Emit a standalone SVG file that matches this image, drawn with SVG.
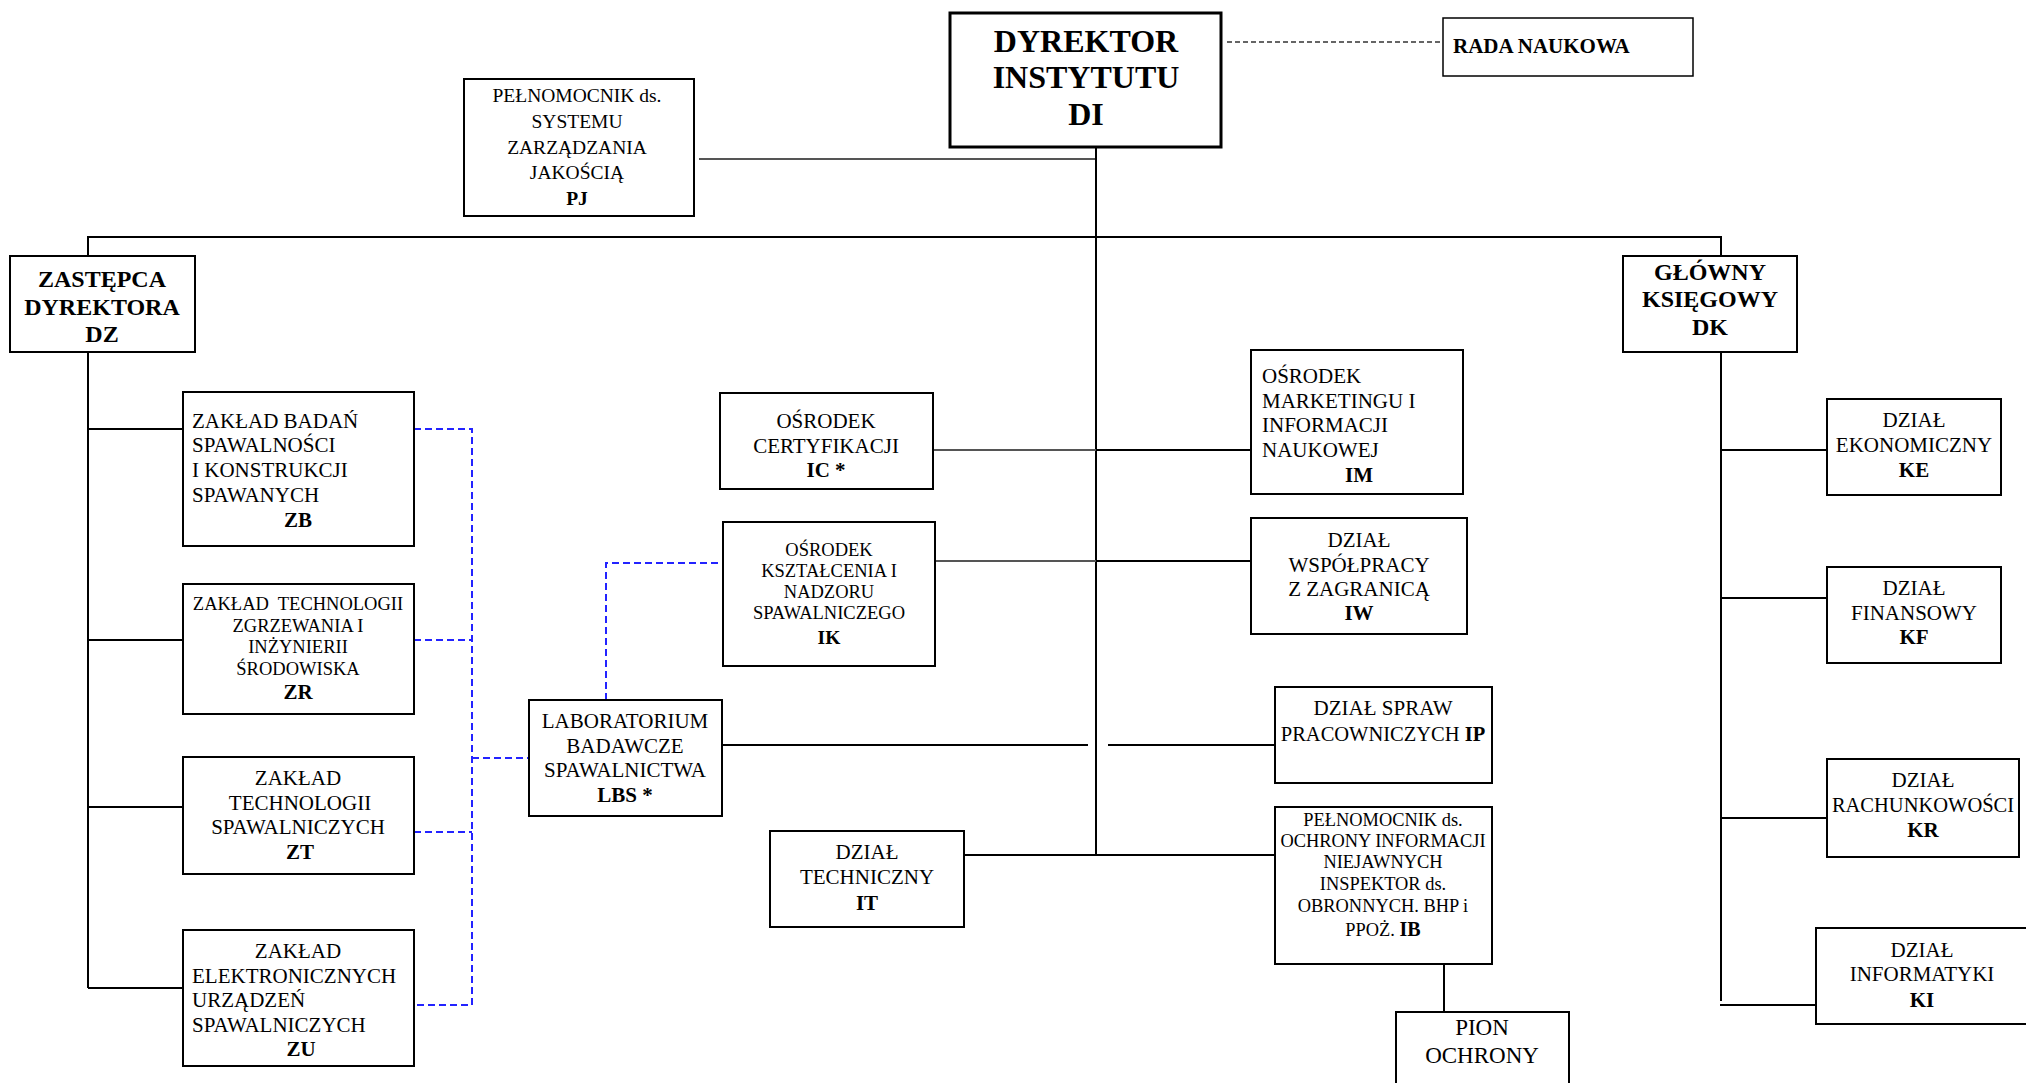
<svg xmlns="http://www.w3.org/2000/svg" width="2026" height="1083" viewBox="0 0 2026 1083">
<style>
text{font-family:"Liberation Serif","Times New Roman",serif;fill:#000;font-size:21px}
.c{text-anchor:middle}
.b{font-weight:bold}
.s18{font-size:18.5px}
.f18{font-size:18.4px}
.f19{font-size:19.5px}
.f20{font-size:20px}
.f205{font-size:20.5px}
.f23{font-size:23px}
.f24{font-size:24px}
.f32{font-size:32px}
.box{fill:#fff;stroke:#000;stroke-width:2}
.thick{stroke-width:3}
.thin{stroke-width:1.5}
.ln{stroke:#000;stroke-width:2;fill:none}
.gray{stroke:#555;stroke-width:2;fill:none}
.blue{stroke:#2323ff;stroke-width:2;fill:none;stroke-dasharray:7 4}
.dash{stroke:#333;stroke-width:1.4;fill:none;stroke-dasharray:5 3}
</style>
<rect width="2026" height="1083" fill="#fff"/>
<g id="connectors">
<line class="dash" x1="1227" y1="42" x2="1441" y2="42"/>
<line class="gray" x1="699" y1="159" x2="1096" y2="159"/>
<line class="ln" x1="1096" y1="147" x2="1096" y2="856"/>
<line class="ln" x1="87" y1="237" x2="1722" y2="237"/>
<line class="ln" x1="88" y1="237" x2="88" y2="256"/>
<line class="ln" x1="1721" y1="237" x2="1721" y2="256"/>
<line class="ln" x1="88" y1="352" x2="88" y2="988"/>
<line class="ln" x1="88" y1="429" x2="183" y2="429"/>
<line class="ln" x1="88" y1="640" x2="183" y2="640"/>
<line class="ln" x1="88" y1="807" x2="183" y2="807"/>
<line class="ln" x1="88" y1="988" x2="183" y2="988"/>
<line class="ln" x1="1721" y1="352" x2="1721" y2="1001"/>
<line class="ln" x1="1721" y1="450" x2="1827" y2="450"/>
<line class="ln" x1="1721" y1="598" x2="1827" y2="598"/>
<line class="ln" x1="1721" y1="818" x2="1827" y2="818"/>
<line class="ln" x1="1720" y1="1005" x2="1816" y2="1005"/>
<line class="gray" x1="933" y1="450" x2="1096" y2="450"/>
<line class="ln" x1="1096" y1="450" x2="1251" y2="450"/>
<line class="gray" x1="935" y1="561" x2="1096" y2="561"/>
<line class="ln" x1="1096" y1="561" x2="1251" y2="561"/>
<line class="ln" x1="722" y1="745" x2="1088" y2="745"/>
<line class="ln" x1="1108" y1="745" x2="1275" y2="745"/>
<line class="ln" x1="964" y1="855" x2="1275" y2="855"/>
<line class="ln" x1="1444" y1="964" x2="1444" y2="1012"/>
<polyline class="blue" points="414,429 472,429 472,1005 414,1005"/>
<line class="blue" x1="414" y1="640" x2="472" y2="640"/>
<line class="blue" x1="414" y1="832" x2="472" y2="832"/>
<line class="blue" x1="472" y1="758" x2="529" y2="758"/>
<polyline class="blue" points="606,700 606,563 723,563"/>
</g>
<g id="DI">
<rect class="box thick" x="950" y="13" width="271" height="134"/>
<text class="c b f32" x="1086" y="52">DYREKTOR</text>
<text class="c b f32" x="1086" y="88">INSTYTUTU</text>
<text class="c b f32" x="1086" y="125">DI</text>
</g>
<g id="RADA">
<rect class="box thin" x="1443" y="18" width="250" height="58"/>
<text class="b" x="1453" y="53">RADA NAUKOWA</text>
</g>
<g id="PJ">
<rect class="box" x="464" y="79" width="230" height="137"/>
<text class="c f19" x="577" y="102">PEŁNOMOCNIK ds.</text>
<text class="c f19" x="577" y="128">SYSTEMU</text>
<text class="c f19" x="577" y="154">ZARZĄDZANIA</text>
<text class="c f19" x="577" y="179">JAKOŚCIĄ</text>
<text class="c b f19" x="577" y="205">PJ</text>
</g>
<g id="DZ">
<rect class="box" x="10" y="256" width="185" height="96"/>
<text class="c b f24" x="102" y="287">ZASTĘPCA</text>
<text class="c b f24" x="102" y="315">DYREKTORA</text>
<text class="c b f24" x="102" y="342">DZ</text>
</g>
<g id="DK">
<rect class="box" x="1623" y="256" width="174" height="96"/>
<text class="c b f24" x="1710" y="280">GŁÓWNY</text>
<text class="c b f24" x="1710" y="307">KSIĘGOWY</text>
<text class="c b f24" x="1710" y="335">DK</text>
</g>
<g id="ZB">
<rect class="box" x="183" y="392" width="231" height="154"/>
<text x="192" y="428">ZAKŁAD BADAŃ</text>
<text x="192" y="452">SPAWALNOŚCI</text>
<text x="192" y="477">I KONSTRUKCJI</text>
<text x="192" y="502">SPAWANYCH</text>
<text class="c b" x="298" y="527">ZB</text>
</g>
<g id="ZR">
<rect class="box" x="183" y="584" width="231" height="130"/>
<text class="c s18" x="298" y="610" xml:space="preserve">ZAKŁAD  TECHNOLOGII</text>
<text class="c s18" x="298" y="632">ZGRZEWANIA I</text>
<text class="c s18" x="298" y="653">INŻYNIERII</text>
<text class="c s18" x="298" y="675">ŚRODOWISKA</text>
<text class="c b" x="298" y="699">ZR</text>
</g>
<g id="ZT">
<rect class="box" x="183" y="757" width="231" height="117"/>
<text class="c" x="298" y="785">ZAKŁAD</text>
<text class="c" x="300" y="810">TECHNOLOGII</text>
<text class="c" x="298" y="834">SPAWALNICZYCH</text>
<text class="c b" x="300" y="859">ZT</text>
</g>
<g id="ZU">
<rect class="box" x="183" y="930" width="231" height="136"/>
<text class="c" x="298" y="958">ZAKŁAD</text>
<text x="192" y="983">ELEKTRONICZNYCH</text>
<text x="192" y="1007">URZĄDZEŃ</text>
<text x="192" y="1032">SPAWALNICZYCH</text>
<text class="c b" x="301" y="1056">ZU</text>
</g>
<g id="LBS">
<rect class="box" x="529" y="700" width="193" height="116"/>
<text class="c" x="625" y="728">LABORATORIUM</text>
<text class="c" x="625" y="753">BADAWCZE</text>
<text class="c" x="625" y="777">SPAWALNICTWA</text>
<text class="c b" x="625" y="802">LBS *</text>
</g>
<g id="IC">
<rect class="box" x="720" y="393" width="213" height="96"/>
<text class="c" x="826" y="428">OŚRODEK</text>
<text class="c" x="826" y="453">CERTYFIKACJI</text>
<text class="c b" x="826" y="477">IC *</text>
</g>
<g id="IK">
<rect class="box" x="723" y="522" width="212" height="144"/>
<text class="c s18" x="829" y="556">OŚRODEK</text>
<text class="c s18" x="829" y="577">KSZTAŁCENIA I</text>
<text class="c s18" x="829" y="598">NADZORU</text>
<text class="c s18" x="829" y="619">SPAWALNICZEGO</text>
<text class="c b f19" x="829" y="644">IK</text>
</g>
<g id="IT">
<rect class="box" x="770" y="831" width="194" height="96"/>
<text class="c" x="867" y="859">DZIAŁ</text>
<text class="c" x="867" y="884">TECHNICZNY</text>
<text class="c b" x="867" y="910">IT</text>
</g>
<g id="IM">
<rect class="box" x="1251" y="350" width="212" height="144"/>
<text x="1262" y="383">OŚRODEK</text>
<text x="1262" y="408">MARKETINGU I</text>
<text x="1262" y="432">INFORMACJI</text>
<text x="1262" y="457">NAUKOWEJ</text>
<text class="c b" x="1359" y="482">IM</text>
</g>
<g id="IW">
<rect class="box" x="1251" y="518" width="216" height="116"/>
<text class="c" x="1359" y="547">DZIAŁ</text>
<text class="c" x="1359" y="572">WSPÓŁPRACY</text>
<text class="c" x="1359" y="596">Z ZAGRANICĄ</text>
<text class="c b" x="1359" y="620">IW</text>
</g>
<g id="IP">
<rect class="box" x="1275" y="687" width="217" height="96"/>
<text class="c" x="1383" y="715">DZIAŁ SPRAW</text>
<text class="c f205" x="1383" y="741">PRACOWNICZYCH <tspan class="b">IP</tspan></text>
</g>
<g id="IB">
<rect class="box" x="1275" y="807" width="217" height="157"/>
<text class="c f18" x="1383" y="826">PEŁNOMOCNIK ds.</text>
<text class="c f18" x="1383" y="847">OCHRONY INFORMACJI</text>
<text class="c f18" x="1383" y="868">NIEJAWNYCH</text>
<text class="c f18" x="1383" y="890">INSPEKTOR ds.</text>
<text class="c f18" x="1383" y="912">OBRONNYCH. BHP i</text>
<text class="c f18" x="1383" y="936">PPOŻ. <tspan class="b f20">IB</tspan></text>
</g>
<g id="PION">
<rect class="box" x="1396" y="1012" width="173" height="80"/>
<text class="c f23" x="1482" y="1035">PION</text>
<text class="c f23" x="1482" y="1063">OCHRONY</text>
</g>
<g id="KE">
<rect class="box" x="1827" y="399" width="174" height="96"/>
<text class="c" x="1914" y="427">DZIAŁ</text>
<text class="c" x="1914" y="452">EKONOMICZNY</text>
<text class="c b" x="1914" y="477">KE</text>
</g>
<g id="KF">
<rect class="box" x="1827" y="567" width="174" height="96"/>
<text class="c" x="1914" y="595">DZIAŁ</text>
<text class="c" x="1914" y="620">FINANSOWY</text>
<text class="c b" x="1914" y="644">KF</text>
</g>
<g id="KR">
<rect class="box" x="1827" y="759" width="192" height="98"/>
<text class="c" x="1923" y="787">DZIAŁ</text>
<text class="c f205" x="1923" y="812">RACHUNKOWOŚCI</text>
<text class="c b" x="1923" y="837">KR</text>
</g>
<g id="KI">
<rect class="box" x="1816" y="928" width="220" height="96"/>
<text class="c" x="1922" y="957">DZIAŁ</text>
<text class="c" x="1922" y="981">INFORMATYKI</text>
<text class="c b" x="1922" y="1007">KI</text>
</g>
</svg>
